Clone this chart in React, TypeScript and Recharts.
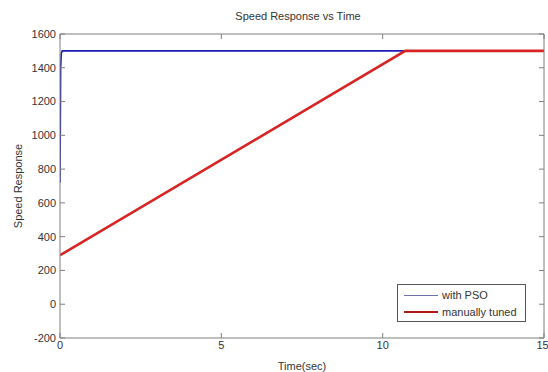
import React from 'react';
import { LineChart, Line, XAxis, YAxis, Label } from 'recharts';

const psoTime = [0, 0.02, 0.04, 0.07, 15];
const psoSpeed = [720, 1400, 1485, 1500, 1500];
const manualTime = [0, 10.7, 15];
const manualSpeed = [290, 1500, 1500];
const xTicks = [0, 5, 10, 15];
const yTicks = [-200, 0, 200, 400, 600, 800, 1000, 1200, 1400, 1600];
const title = 'Speed Response vs Time';
const seriesNames = ['with PSO', 'manually tuned'];

const psoData = psoTime.map((t, i) => ({ t, v: psoSpeed[i] }));
const manualData = manualTime.map((t, i) => ({ t, v: manualSpeed[i] }));

const FONT = '"Liberation Sans", Arial, sans-serif';
const AXIS = '#7f7f7f';
const TXT = '#333333';
const BLUE = '#1c1cb4';
const RED = '#d82424';

const LegendBox = () => (
  <div
    style={{
      position: 'absolute',
      left: 397,
      top: 284,
      width: 129,
      height: 38,
      border: '1px solid #555',
      background: '#fff',
      fontFamily: FONT,
      fontSize: 11,
      color: TXT,
      boxSizing: 'border-box',
    }}
  >
    {[BLUE, RED].map((c, i) => (
      <div key={i} style={{ position: 'absolute', left: 6, top: 3 + i * 17, display: 'flex', alignItems: 'center', height: 14 }}>
        <div style={{ width: 34, height: i === 0 ? 1 : 2, background: i === 0 ? '#7070a8' : '#b01818' }} />
        <span style={{ marginLeft: 4 }}>{seriesNames[i]}</span>
      </div>
    ))}
  </div>
);

export default function App() {
  return (
    <div style={{ position: 'absolute', left: 0, top: 0, width: 548, height: 372, background: '#fff' }}>
      <div
        style={{
          position: 'absolute',
          left: 0,
          width: 596,
          top: 10,
          textAlign: 'center',
          fontFamily: FONT,
          fontSize: 11,
          color: TXT,
        }}
      >
        {title}
      </div>
      <LineChart width={548} height={372} margin={{ top: 33, right: 3, bottom: 0, left: 0 }}>
        <XAxis
          dataKey="t"
          type="number"
          domain={[0, 15]}
          ticks={xTicks}
          allowDataOverflow
          height={34}
          stroke={AXIS}
          tickSize={-5}
          tickMargin={8}
          tick={{ fill: TXT, fontSize: 11, fontFamily: FONT }}
        >
          <Label value="Time(sec)" position="insideBottom" offset={2} style={{ fill: TXT, fontSize: 11, fontFamily: FONT }} />
        </XAxis>
        <XAxis
          xAxisId="top"
          orientation="top"
          dataKey="t"
          type="number"
          domain={[0, 15]}
          ticks={xTicks}
          allowDataOverflow
          height={1}
          stroke={AXIS}
          tickSize={-5}
          tickFormatter={() => ''}
        />
        <YAxis
          type="number"
          domain={[-200, 1600]}
          ticks={yTicks}
          allowDataOverflow
          width={60}
          stroke={AXIS}
          tickSize={-5}
          tickMargin={9}
          tick={{ fill: TXT, fontSize: 11, fontFamily: FONT }}
        >
          <Label value="Speed Response" angle={-90} position="insideLeft" offset={18} style={{ textAnchor: 'middle', fill: TXT, fontSize: 11, fontFamily: FONT }} />
        </YAxis>
        <YAxis
          yAxisId="right"
          orientation="right"
          type="number"
          domain={[-200, 1600]}
          ticks={yTicks}
          allowDataOverflow
          width={1}
          stroke={AXIS}
          tickSize={-5}
          tickFormatter={() => ''}
        />
        <Line
          data={psoData}
          dataKey="v"
          type="linear"
          stroke={BLUE}
          strokeWidth={1.6}
          dot={false}
          isAnimationActive={false}
          name={seriesNames[0]}
        />
        <Line
          data={manualData}
          dataKey="v"
          type="linear"
          stroke={RED}
          strokeWidth={2.6}
          dot={false}
          isAnimationActive={false}
          name={seriesNames[1]}
        />
      </LineChart>
      <LegendBox />
    </div>
  );
}
